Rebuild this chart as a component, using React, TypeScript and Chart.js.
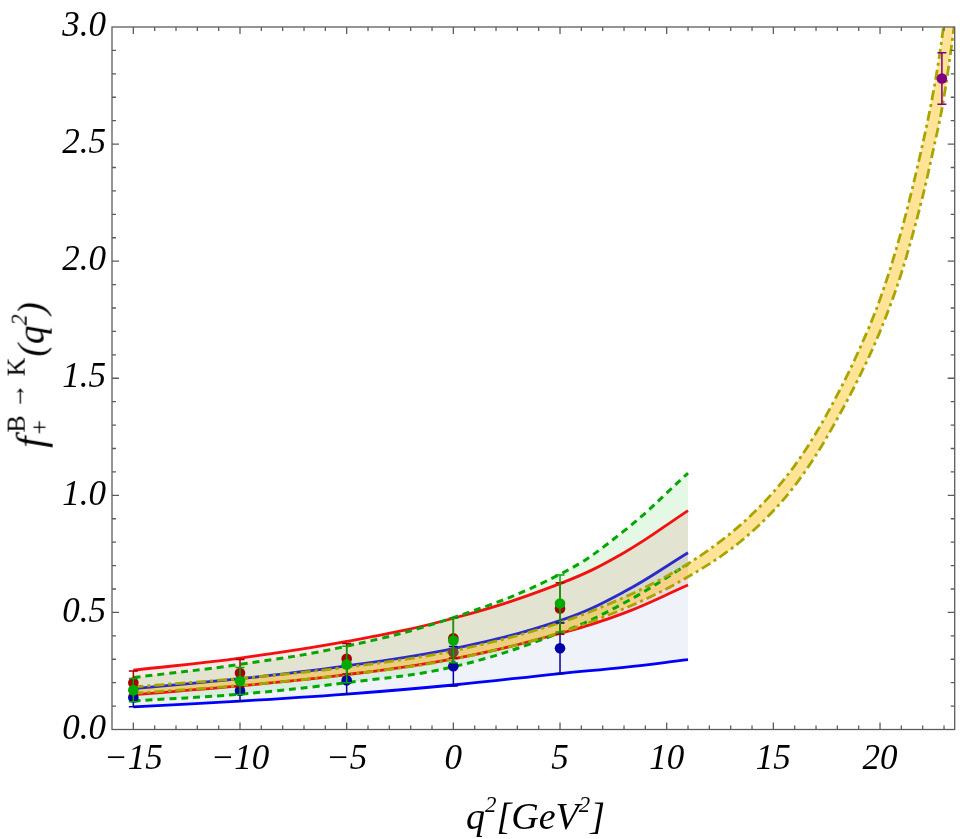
import { useEffect, useRef } from 'react'
import { Chart, registerables } from 'chart.js'

Chart.register(...registerables)

// fit curves
const curveQ = [-15, -10, -5, 0, 5, 8, 11]
const greenUpper = [0.222, 0.278, 0.356, 0.478, 0.663, 0.848, 1.095]
const greenLower = [0.122, 0.151, 0.200, 0.268, 0.413, 0.540, 0.706]
const redUpper = [0.253, 0.305, 0.376, 0.475, 0.623, 0.755, 0.935]
const redLower = [0.149, 0.186, 0.234, 0.302, 0.410, 0.497, 0.617]
const blueUpper = [0.175, 0.217, 0.272, 0.345, 0.465, 0.588, 0.755]
const blueLower = [0.097, 0.121, 0.151, 0.190, 0.239, 0.265, 0.298]

// yellow band
const bandQ = [-15, -10, -5, 0, 5, 8, 10, 11, 12, 13, 14, 15, 16, 17, 18, 19, 20, 21, 22, 22.5, 22.9, 23.2, 23.5]
const bandUpper = [0.182, 0.218, 0.266, 0.336, 0.456, 0.564, 0.655, 0.708, 0.769, 0.838, 0.919, 1.014, 1.127, 1.266, 1.430, 1.617, 1.838, 2.129, 2.501, 2.723, 2.950, 3.180, 3.420]
const bandLower = [0.154, 0.188, 0.234, 0.300, 0.414, 0.516, 0.601, 0.652, 0.707, 0.770, 0.845, 0.934, 1.041, 1.172, 1.328, 1.501, 1.700, 1.949, 2.277, 2.477, 2.650, 2.820, 3.020]

// data points with errors
const pointQ = [-15, -10, -5, 0, 5]
const redPoints = [0.200, 0.241, 0.302, 0.390, 0.517]
const redErr = [0.050, 0.058, 0.065, 0.085, 0.110]
const greenPoints = [0.168, 0.207, 0.278, 0.380, 0.538]
const greenErr = [0.050, 0.058, 0.078, 0.095, 0.122]
const bluePoints = [0.137, 0.166, 0.210, 0.270, 0.347]
const blueErr = [0.040, 0.045, 0.059, 0.084, 0.108]
const brownQ = [0]
const brownPoints = [0.330]
const purpleQ = [22.9]
const purplePoints = [2.78]
const purpleErr = [0.11]

const xTicks = [-15, -10, -5, 0, 5, 10, 15, 20]
const yTicks = [0, 0.5, 1, 1.5, 2, 2.5, 3]

const serif = '"Liberation Serif", "DejaVu Serif", serif'

const xy = (xs: number[], ys: number[]) => xs.map((x, i) => ({ x, y: ys[i] }))

function curve(label: string, xs: number[], ys: number[], color: string, width: number, dash: number[], fill: any, fillColor: string, mode: string) {
  return {
    label,
    data: xy(xs, ys),
    borderColor: color,
    borderWidth: width,
    borderDash: dash,
    pointRadius: 0,
    fill,
    backgroundColor: fillColor,
    cubicInterpolationMode: mode,
    tension: 0.4,
    order: 10,
  }
}

function points(label: string, xs: number[], ys: number[], errs: number[] | null, color: string, order: number) {
  return {
    label,
    data: xy(xs, ys),
    showLine: false,
    pointRadius: 5.3,
    pointBackgroundColor: color,
    pointBorderColor: color,
    pointBorderWidth: 0,
    borderColor: color,
    backgroundColor: color,
    errors: errs,
    order,
  }
}

const errorBars = {
  id: 'errorBars',
  beforeDatasetDraw(chart: any, args: any) {
    const ds = chart.data.datasets[args.index]
    if (!ds.errors) return
    const { ctx, scales } = chart
    ctx.save()
    ctx.strokeStyle = ds.borderColor
    ctx.lineWidth = 1.5
    ds.data.forEach((p: any, i: number) => {
      const e = ds.errors[i]
      const px = scales.x.getPixelForValue(p.x)
      const top = scales.y.getPixelForValue(p.y + e)
      const bot = scales.y.getPixelForValue(p.y - e)
      ctx.beginPath()
      ctx.moveTo(px, top)
      ctx.lineTo(px, bot)
      ctx.moveTo(px - 4.5, top)
      ctx.lineTo(px + 4.5, top)
      ctx.moveTo(px - 4.5, bot)
      ctx.lineTo(px + 4.5, bot)
      ctx.stroke()
    })
    ctx.restore()
  },
}

// box frame with inward ticks on all four sides
const frame = {
  id: 'frame',
  afterDraw(chart: any) {
    const { ctx, chartArea: a, scales } = chart
    ctx.save()
    ctx.strokeStyle = '#5c5c5c'
    ctx.lineWidth = 1.3
    ctx.strokeRect(a.left, a.top, a.right - a.left, a.bottom - a.top)
    ctx.beginPath()
    for (let v = -15; v <= 23; v++) {
      const px = scales.x.getPixelForValue(v)
      const len = v % 5 === 0 ? 7 : 4
      ctx.moveTo(px, a.bottom)
      ctx.lineTo(px, a.bottom - len)
      ctx.moveTo(px, a.top)
      ctx.lineTo(px, a.top + len)
    }
    for (let k = 1; k < 30; k++) {
      const py = scales.y.getPixelForValue(k / 10)
      const len = k % 5 === 0 ? 7 : 4
      ctx.moveTo(a.left, py)
      ctx.lineTo(a.left + len, py)
      ctx.moveTo(a.right, py)
      ctx.lineTo(a.right - len, py)
    }
    ctx.stroke()
    ctx.restore()
  },
}

export default function App() {
  const chartRef = useRef<HTMLCanvasElement>(null)
  const chartInstance = useRef<Chart | null>(null)

  useEffect(() => {
    document.body.style.margin = '0'
    if (!chartRef.current) return
    if (chartInstance.current) chartInstance.current.destroy()

    const olive = '#a9a500'
    const datasets: any[] = [
      curve('band upper', bandQ, bandUpper, olive, 2.8, [10, 4, 3, 4], '+1', 'rgba(255, 200, 45, 0.5)', 'monotone'),
      curve('band lower', bandQ, bandLower, olive, 2.8, [10, 4, 3, 4], false, 'transparent', 'monotone'),
      curve('green upper', curveQ, greenUpper, '#00a800', 3, [7, 5], '+1', 'rgba(0, 180, 0, 0.1)', 'default'),
      curve('green lower', curveQ, greenLower, '#00a800', 3, [7, 5], false, 'transparent', 'default'),
      curve('red upper', curveQ, redUpper, '#f21010', 2.8, [], '+1', 'rgba(230, 0, 0, 0.09)', 'default'),
      curve('red lower', curveQ, redLower, '#f21010', 2.8, [], false, 'transparent', 'default'),
      curve('blue upper', curveQ, blueUpper, '#2b2bc8', 2.8, [], '+1', 'rgba(60, 90, 180, 0.08)', 'default'),
      curve('blue lower', curveQ, blueLower, '#0000ff', 2.8, [], false, 'transparent', 'default'),
      points('blue', pointQ, bluePoints, blueErr, '#0000a6', 4),
      points('red', pointQ, redPoints, redErr, '#a80000', 3),
      points('brown', brownQ, brownPoints, null, '#6a4a30', 2),
      points('green', pointQ, greenPoints, greenErr, '#00aa00', 1),
      points('purple', purpleQ, purplePoints, purpleErr, '#800080', 0),
    ]

    const tickFont = { family: serif, size: 35, style: 'italic' as const }

    chartInstance.current = new Chart(chartRef.current, {
      type: 'line',
      data: { datasets },
      plugins: [errorBars, frame],
      options: {
        animation: false,
        responsive: true,
        maintainAspectRatio: false,
        layout: { padding: { top: 23, right: 1, left: 0, bottom: 0 } },
        plugins: {
          legend: { display: false },
          tooltip: { enabled: false },
          filler: { drawTime: 'beforeDatasetsDraw' },
        },
        scales: {
          x: {
            type: 'linear',
            min: -16,
            max: 23.5,
            afterBuildTicks: (s: any) => { s.ticks = xTicks.map((value) => ({ value })) },
            afterFit: (s: any) => { s.height = 109.5 },
            grid: { display: false, drawTicks: false },
            border: { display: false },
            ticks: {
              autoSkip: false,
              maxRotation: 0,
              padding: 9,
              color: '#000',
              font: tickFont,
              callback: (v: any) => (v < 0 ? '\u2212' + Math.abs(v) : String(v)),
            },
          },
          y: {
            type: 'linear',
            min: 0,
            max: 3,
            afterBuildTicks: (s: any) => { s.ticks = yTicks.map((value) => ({ value })) },
            afterFit: (s: any) => { s.width = 112 },
            grid: { display: false, drawTicks: false },
            border: { display: false },
            ticks: {
              padding: 6,
              color: '#000',
              font: tickFont,
              callback: (v: any) => Number(v).toFixed(1),
            },
          },
        },
      },
    } as any)

    return () => {
      if (chartInstance.current) {
        chartInstance.current.destroy()
        chartInstance.current = null
      }
    }
  }, [])

  const small: React.CSSProperties = { position: 'absolute', left: 0, fontStyle: 'normal', fontSize: '0.7em', whiteSpace: 'nowrap' }
  const sup2: React.CSSProperties = { fontSize: '0.6em', verticalAlign: '0.75em', lineHeight: 0 }

  return (
    <div style={{ position: 'relative', width: 960, height: 839, background: '#fff', fontFamily: serif }}>
      <canvas ref={chartRef}></canvas>
      <div
        style={{
          position: 'absolute', left: 535.5, top: 797, transform: 'translateX(-50%)',
          fontSize: 38, fontStyle: 'italic', lineHeight: 1, whiteSpace: 'nowrap', pointerEvents: 'none',
        }}
      >
        q<sup style={sup2}>2</sup>[GeV<sup style={sup2}>2</sup>]
      </div>
      <div
        style={{
          position: 'absolute', left: 29, top: 375, transform: 'translate(-50%, -50%) rotate(-90deg)',
          fontSize: 37, fontStyle: 'italic', lineHeight: 1, whiteSpace: 'nowrap', pointerEvents: 'none',
        }}
      >
        <span style={{ fontSize: '1.1em' }}>f</span>
        <span style={{ display: 'inline-block', position: 'relative', width: 80, height: '1em', verticalAlign: 'baseline' }}>
          <span style={{ ...small, top: '-0.1em', left: 4 }}>B &#8594; K</span>
          <span style={{ ...small, top: '0.78em', left: 2 }}>+</span>
        </span>
        (q<sup style={sup2}>2</sup>)
      </div>
    </div>
  )
}
